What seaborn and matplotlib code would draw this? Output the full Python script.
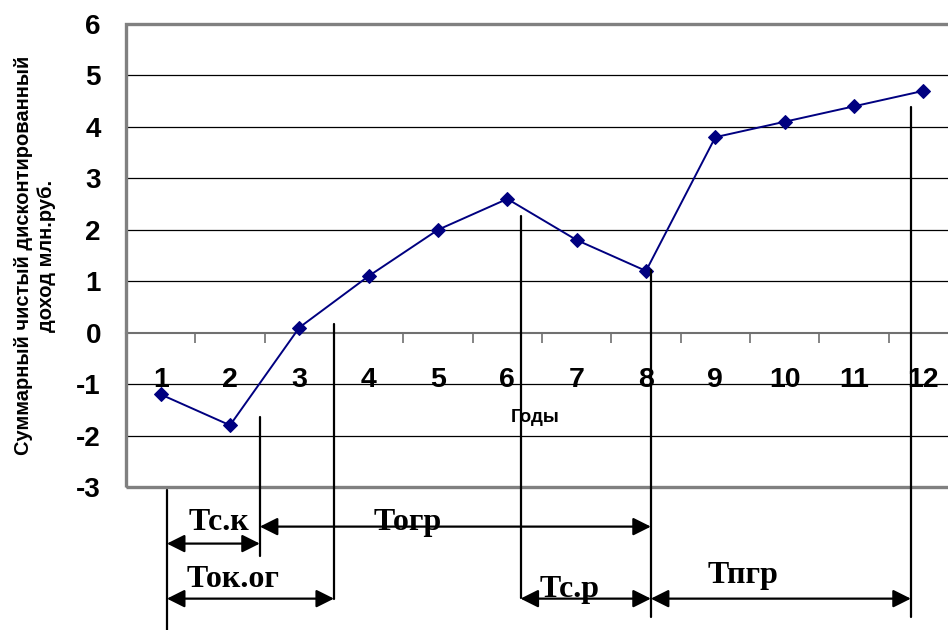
import seaborn as sns
import matplotlib.pyplot as plt
from matplotlib.patches import Rectangle

# values
years = list(range(1, 13))
npv = [-1.2, -1.8, 0.1, 1.1, 2.0, 2.6, 1.8, 1.2, 3.8, 4.1, 4.4, 4.7]

# vertical marker lines of the periods (x in year units)
marks_x = [1.09, 2.43, 3.50, 6.19, 8.07, 11.82]
marks_top = [-3.05, -1.63, 0.16, 2.26, 1.21, 4.38]
marks_bottom = [-5.8, -4.35, -5.17, -5.15, -5.52, -5.52]

# period arrows and their names
periods = ['Тс.к', 'Тогр', 'Ток.ог', 'Тс.р', 'Тпгр']
period_start = [1.09, 2.43, 1.09, 6.19, 8.07]
period_end = [2.43, 8.07, 3.50, 8.07, 11.82]
period_arrow_y = [-4.10, -3.77, -5.17, -5.17, -5.17]
period_label_x = [1.84, 4.56, 2.05, 6.90, 9.40]
period_label_y = [-3.83, -3.83, -4.94, -5.13, -4.86]

y_ticks = list(range(-3, 7))

sns.set_style('white')
plt.rcParams['font.family'] = ['Liberation Sans', 'DejaVu Sans']
plt.rcParams['text.color'] = 'black'
plt.rcParams['axes.labelcolor'] = 'black'
plt.rcParams['xtick.color'] = 'black'
plt.rcParams['ytick.color'] = 'black'

fig = plt.figure(figsize=(9.48, 6.30), dpi=100)
# the plot area runs off the right edge of the picture, as in the original
ax = fig.add_axes([126 / 948, 143 / 630, 832 / 948, 463 / 630])

sns.lineplot(x=years, y=npv, ax=ax, color='#000080', linewidth=1.4,
             marker='D', markersize=7, markeredgecolor='#000080', zorder=5)

ax.set_xlim(0.5, 12.5)
ax.set_ylim(-3, 6)

# horizontal grid
for v in y_ticks[1:-1]:
    if v != 0:
        ax.axhline(v, color='black', linewidth=0.9, zorder=1)

# frame
for s in ['left', 'right', 'top']:
    ax.spines[s].set_visible(False)
ax.add_patch(Rectangle((0, 0), 1, 1, transform=ax.transAxes, fill=False,
                       edgecolor='#808080', linewidth=2.4, zorder=6, clip_on=False))

# category axis crosses at zero
ax.spines['bottom'].set_position(('data', 0))
ax.spines['bottom'].set_color('#707070')
ax.spines['bottom'].set_linewidth(1.5)
ax.set_xticks(years)
ax.set_xticklabels([str(y) for y in years], fontsize=20.5, fontweight='bold')
ax.set_xticks([y + 0.5 for y in years[:-1]], minor=True)
ax.tick_params(axis='x', which='major', length=0, pad=25)
ax.tick_params(axis='x', which='minor', length=7, width=1.2, color='#707070',
               direction='out', bottom=True)

ax.set_yticks(y_ticks)
ax.set_yticklabels([str(v) for v in y_ticks], fontsize=20, fontweight='bold')
ax.tick_params(axis='y', length=0, pad=18)

ax.set_ylabel('Суммарный чистый дисконтированный\nдоход млн.руб.',
              fontsize=14.5, fontweight='bold', linespacing=1.3)
ax.yaxis.set_label_coords(-0.084, 0.5)

ax.text(535 / 69.3 - 161 / 69.3 + 1, -1.65, 'Годы', fontsize=13.5,
        fontweight='bold', ha='center', va='center')

# period markers
for x, y1, y2 in zip(marks_x, marks_top, marks_bottom):
    ax.plot([x, x], [y1, y2], color='black', linewidth=1.6, clip_on=False, zorder=7)

for name, x1, x2, ya, lx, ly in zip(periods, period_start, period_end,
                                     period_arrow_y, period_label_x, period_label_y):
    ax.annotate('', xy=(x2, ya), xytext=(x1, ya), annotation_clip=False,
                arrowprops=dict(arrowstyle='<|-|>,head_length=0.6,head_width=0.3',
                                color='black', lw=1.6, mutation_scale=18,
                                shrinkA=0, shrinkB=0))
    ax.text(lx, ly, name, fontsize=23, fontweight='bold', ha='center',
            va='baseline', family=['Liberation Serif', 'DejaVu Serif'], clip_on=False)

fig.savefig('out.png', dpi=100)
